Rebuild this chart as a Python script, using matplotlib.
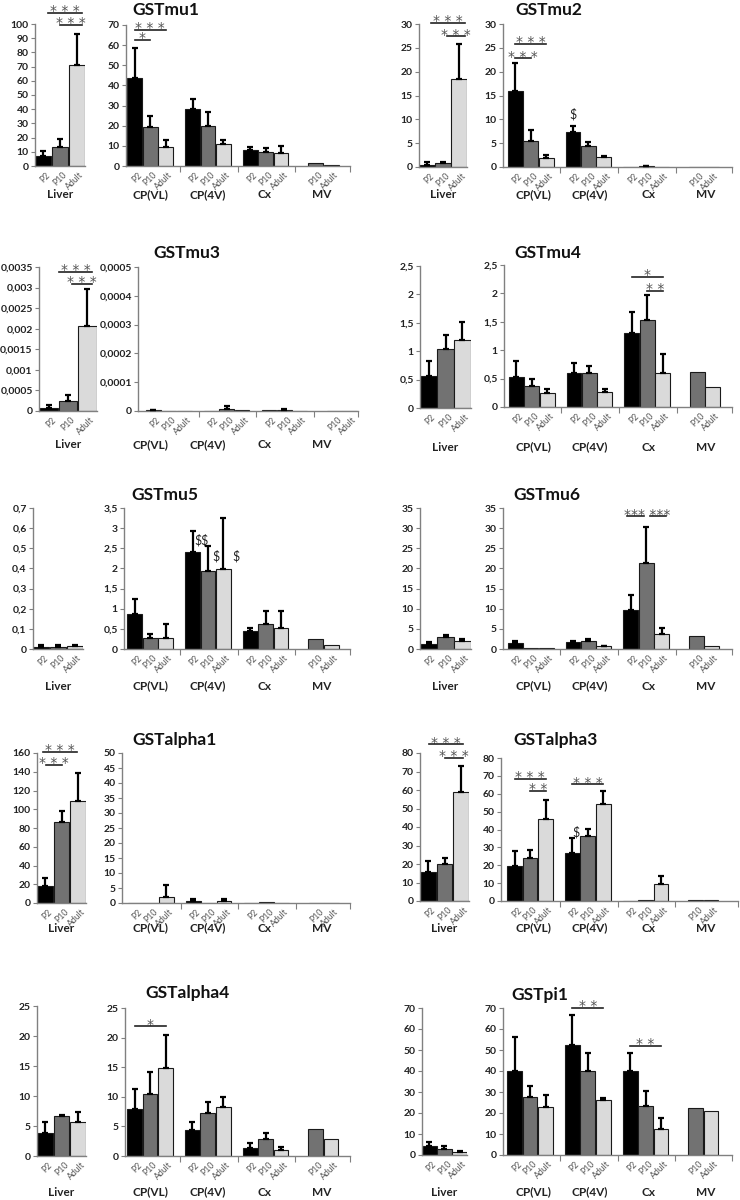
import numpy as np
import matplotlib
matplotlib.use("Agg")
import matplotlib.pyplot as plt

plt.rcParams['font.family'] = ['Lato', 'DejaVu Sans']

W, H = 740, 1200

ages = ["P2", "P10", "Adult"]
regions = ["CP(VL)", "CP(4V)", "Cx", "MV"]
mv_ages = ["P10", "Adult"]
bar_colors = ["#000000", "#727272", "#dadada"]

# values: liver (P2, P10, Adult); main = CP(VL) x3, CP(4V) x3, Cx x3, MV (P10, Adult)
mu1_liver = [6.8, 13.4, 71]
mu1_liver_err = [3.8, 5.7, 22.2]
mu1_main = [43.8, 19.2, 9.5, 28.5, 20.1, 11.1, 8.0, 7.1, 6.5, 1.5, 0.7]
mu1_main_err = [14.6, 5.5, 3.3, 4.7, 6.6, 1.7, 1.3, 1.9, 3.3, 0, 0]
mu1_sig = [("liver", 0.28, 2.31, 108, "* * *"), ("liver", 1.0, 2.31, 99.5, "* * *"),
           ("main", 0, 2, 67.5, "* * *"), ("main", 0, 1, 62.5, "*")]
mu1_marks = []

mu2_liver = [0.5, 0.77, 18.5]
mu2_liver_err = [0.55, 0.33, 7.4]
mu2_main = [16, 5.55, 1.9, 7.4, 4.36, 2.1, 0.08, 0.12, 0.05, 0.05, 0.05]
mu2_main_err = [5.8, 2.15, 0.56, 1.2, 0.94, 0.3, 0, 0.05, 0, 0, 0]
mu2_sig = [("liver", 0.25, 2.37, 30.2, "* * *"), ("liver", 1.25, 2.37, 27.4, "* * *"),
           ("main", 0, 2, 25.8, "* * *"), ("main", 0, 1, 22.8, "* * *")]
mu2_marks = [(3, 0.0, 11.1, "$")]

mu3_liver = [0.00007, 0.00024, 0.00206]
mu3_liver_err = [0.00007, 0.00016, 0.0009]
mu3_main = [3e-6, 1e-6, 1e-6, 0.5e-6, 8e-6, 2e-6, 2e-6, 5e-6, 0.5e-6, 0, 0]
mu3_main_err = [2e-6, 0, 0, 0, 9e-6, 0, 0, 3e-6, 0, 0, 0]
mu3_sig = [("liver", 0.54, 2.25, 0.00339, "* * *"), ("liver", 1.21, 2.25, 0.00309, "* * *")]
mu3_marks = []

mu4_liver = [0.57, 1.04, 1.19]
mu4_liver_err = [0.26, 0.25, 0.33]
mu4_main = [0.53, 0.37, 0.24, 0.6, 0.6, 0.26, 1.31, 1.54, 0.59, 0.62, 0.35]
mu4_main_err = [0.28, 0.12, 0.08, 0.18, 0.12, 0.05, 0.37, 0.43, 0.34, 0, 0]
mu4_sig = [("main", 6, 8, 2.29, "*"), ("main", 7, 8, 2.05, "* *")]
mu4_marks = []

mu5_liver = [0.012, 0.012, 0.013]
mu5_liver_err = [0.006, 0.009, 0.005]
mu5_main = [0.86, 0.27, 0.27, 2.42, 1.93, 1.99, 0.45, 0.61, 0.52, 0.25, 0.09]
mu5_main_err = [0.39, 0.09, 0.35, 0.52, 0.62, 1.26, 0.07, 0.33, 0.42, 0, 0]
mu5_sig = []
mu5_marks = [(3, 0.6, 2.7, "$$"), (4, 0.55, 2.29, "$"), (5, 0.8, 2.29, "$")]

mu6_liver = [1.16, 3.07, 2.07]
mu6_liver_err = [0.5, 0.43, 0.43]
mu6_main = [1.58, 0.25, 0.25, 1.74, 2.0, 0.66, 9.8, 21.4, 3.65, 3.2, 0.8]
mu6_main_err = [0.42, 0, 0, 0.26, 0.4, 0.14, 3.6, 8.9, 1.65, 0, 0]
mu6_sig = [("main", 5.76, 6.86, 32.9, ""), ("main", 7.25, 8.28, 32.9, ""),
           ("main_text", 7.08, 7.08, 32.9, "*** ***")]
mu6_marks = []

a1_liver = [18, 86, 109]
a1_liver_err = [9, 12.6, 30]
a1_main = [0, 0, 2.0, 0.56, 0, 0.56, 0, 0.2, 0, 0, 0]
a1_main_err = [0, 0, 3.9, 0.9, 0, 0.9, 0, 0, 0, 0, 0]
a1_sig = [("liver", -0.13, 1.95, 161, "* * *"), ("liver", 0.05, 1.03, 147, "* * *")]
a1_marks = []

a3_liver = [15.8, 20, 59]
a3_liver_err = [5.8, 3.4, 13.8]
a3_main = [19.5, 24, 45.8, 26.6, 36.1, 54, 0.2, 0.6, 9.3, 0.3, 0.3]
a3_main_err = [8.6, 4.5, 10.9, 8.7, 4.1, 7.4, 0, 0, 4.8, 0, 0]
a3_sig = [("liver", 0.05, 2.14, 84.7, "* * *"), ("liver", 1.03, 2.14, 77.5, "* * *"),
          ("main", 0, 2, 68.5, "* * *"), ("main", 1, 2, 61.6, "* *"), ("main", 3, 5, 65.3, "* * *")]
a3_marks = [(3, 0.2, 38.7, "$")]

a4_liver = [3.8, 6.6, 5.7]
a4_liver_err = [1.8, 0.3, 1.6]
a4_main = [7.9, 10.5, 14.8, 4.46, 7.28, 8.24, 1.3, 2.8, 1.0, 4.5, 2.9]
a4_main_err = [3.4, 3.7, 5.7, 1.3, 1.9, 1.8, 0.95, 1.15, 0.47, 0, 0]
a4_sig = [("main", 0, 2, 21.9, "*")]
a4_marks = []

pi1_liver = [4.45, 3.0, 1.4]
pi1_liver_err = [1.95, 1.3, 0.35]
pi1_main = [40, 27.7, 22.7, 52.3, 40.2, 26.2, 40, 23.2, 12.2, 22.3, 21]
pi1_main_err = [16.4, 5.3, 5.9, 14.5, 8.6, 0.8, 8.8, 7.3, 5.6, 0, 0]
pi1_sig = [("main", 3, 5, 70, "* *"), ("main", 6, 8, 52.1, "* *")]
pi1_marks = []

# layout in pixels: liver box, main box (x0, x1, ytop, ybot), title xy, group label row y
panels = [
    dict(name="GSTmu1", liver=mu1_liver, liver_err=mu1_liver_err, main=mu1_main, main_err=mu1_main_err,
         sig=mu1_sig, marks=mu1_marks, lbox=(35, 85, 24, 166), ltop=100, lstep=10,
         mbox=(126, 350, 25, 166), mtop=70, mstep=10, off=0.07, title=(166, 10), row=195, col=0),
    dict(name="GSTmu2", liver=mu2_liver, liver_err=mu2_liver_err, main=mu2_main, main_err=mu2_main_err,
         sig=mu2_sig, marks=mu2_marks, lbox=(419, 467, 24, 167), ltop=30, lstep=5,
         mbox=(503, 732, 24, 167), mtop=30, mstep=5, off=0.3, title=(549, 10), row=195, col=1),
    dict(name="GSTmu3", liver=mu3_liver, liver_err=mu3_liver_err, main=mu3_main, main_err=mu3_main_err,
         sig=mu3_sig, marks=mu3_marks, lbox=(39, 97, 267, 411), ltop=0.0035, lstep=0.0005,
         mbox=(138, 358, 267, 411), mtop=0.0005, mstep=0.0001, off=0.5, title=(187, 253), row=445, col=0),
    dict(name="GSTmu4", liver=mu4_liver, liver_err=mu4_liver_err, main=mu4_main, main_err=mu4_main_err,
         sig=mu4_sig, marks=mu4_marks, lbox=(420, 471, 266, 408), ltop=2.5, lstep=0.5,
         mbox=(504, 732, 265, 407), mtop=2.5, mstep=0.5, off=0.3, title=(548, 253), row=447, col=1),
    dict(name="GSTmu5", liver=mu5_liver, liver_err=mu5_liver_err, main=mu5_main, main_err=mu5_main_err,
         sig=mu5_sig, marks=mu5_marks, lbox=(33, 83, 508, 649), ltop=0.7, lstep=0.1,
         mbox=(124, 350, 508, 649), mtop=3.5, mstep=0.5, off=0.2, title=(165, 495), row=686, col=0),
    dict(name="GSTmu6", liver=mu6_liver, liver_err=mu6_liver_err, main=mu6_main, main_err=mu6_main_err,
         sig=mu6_sig, marks=mu6_marks, lbox=(420, 471, 508, 649), ltop=35, lstep=5,
         mbox=(503, 732, 508, 649), mtop=35, mstep=5, off=0.3, title=(547, 495), row=686, col=1),
    dict(name="GSTalpha1", liver=a1_liver, liver_err=a1_liver_err, main=a1_main, main_err=a1_main_err,
         sig=a1_sig, marks=a1_marks, lbox=(37, 86, 753, 903), ltop=160, lstep=20,
         mbox=(122, 350, 753, 903), mtop=50, mstep=5, off=0.37, title=(175, 740), row=928, col=0),
    dict(name="GSTalpha3", liver=a3_liver, liver_err=a3_liver_err, main=a3_main, main_err=a3_main_err,
         sig=a3_sig, marks=a3_marks, lbox=(420, 469, 753, 901), ltop=80, lstep=10,
         mbox=(501, 738, 758, 901), mtop=80, mstep=10, off=0.39, title=(556, 740), row=928, col=1),
    dict(name="GSTalpha4", liver=a4_liver, liver_err=a4_liver_err, main=a4_main, main_err=a4_main_err,
         sig=a4_sig, marks=a4_marks, lbox=(37, 86, 1006, 1156), ltop=25, lstep=5,
         mbox=(125, 350, 1008, 1156), mtop=25, mstep=5, off=0.13, title=(188, 993), row=1192, col=0),
    dict(name="GSTpi1", liver=pi1_liver, liver_err=pi1_liver_err, main=pi1_main, main_err=pi1_main_err,
         sig=pi1_sig, marks=pi1_marks, lbox=(422, 467, 1008, 1155), ltop=70, lstep=10,
         mbox=(503, 732, 1008, 1155), mtop=70, mstep=10, off=0.26, title=(540, 995), row=1192, col=1),
]

group_label_x = [[150, 208, 265, 322], [533, 590, 649, 706]]
AXIS_GRAY = "#808080"


def comma(v):
    s = ("%.6f" % v).rstrip("0").rstrip(".")
    return s.replace(".", ",")


def px_axes(fig, box):
    x0, x1, yt, yb = box
    return fig.add_axes([x0 / W, 1 - yb / H, (x1 - x0) / W, (yb - yt) / H])


def style_axis(ax, top, step):
    n = int(round(top / step))
    ticks = np.linspace(0, top, n + 1)
    ax.set_ylim(0, top)
    ax.set_yticks(ticks, [comma(t) for t in ticks], fontweight="bold", color="#222222")
    for s in ("top", "right"):
        ax.spines[s].set_visible(False)
    for s in ("left", "bottom"):
        ax.spines[s].set_color(AXIS_GRAY)
        ax.spines[s].set_linewidth(1.0)
    ax.tick_params(axis="y", direction="out", length=3, width=0.8, color=AXIS_GRAY,
                   labelsize=7.5, pad=1.5)
    ax.patch.set_alpha(0)


def main_centers(off):
    c = [off + 3.75 * g + i + 0.5 for g in range(3) for i in range(3)]
    c += [off + 11.75 + i + 0.5 for i in range(2)]
    return np.array(c)


def pos(centers, idx):
    k = int(np.clip(round(idx), 0, len(centers) - 1))
    return centers[k] + (idx - k)


def draw_bars(ax, x, vals, errs, colors, labels):
    ax.bar(x, vals, width=0.96, color=colors, edgecolor="#1a1a1a", linewidth=0.8, zorder=2)
    vals = np.array(vals, dtype=float)
    errs = np.array(errs, dtype=float)
    x = np.array(x, dtype=float)
    m = errs > 0
    if m.any():
        ax.errorbar(x[m], vals[m], yerr=[np.zeros(m.sum()), errs[m]], fmt="none",
                    ecolor="black", elinewidth=1.6, capsize=2, capthick=1.6, zorder=3)
    for xi, lbl in zip(x, labels):
        ax.annotate(lbl, xy=(xi, 0), xytext=(1.8, -3.2), textcoords="offset points",
                    rotation=45, rotation_mode="anchor", ha="right", va="top",
                    fontsize=6.3, color="#555555", annotation_clip=False)


def draw_stars(ax, x, y, text):
    ax.annotate(text, xy=(x, y), xytext=(0, -3.8), textcoords="offset points",
                ha="center", va="bottom", fontsize=10, color="#555555",
                family="DejaVu Sans", annotation_clip=False)


def draw_sig(ax, x1, x2, y, text):
    ax.plot([x1, x2], [y, y], color="#222222", lw=1.2, clip_on=False, zorder=4)
    if text:
        draw_stars(ax, (x1 + x2) / 2, y, text)


fig = plt.figure(figsize=(W / 100, H / 100), dpi=100)

for p in panels:
    # liver
    lax = px_axes(fig, p["lbox"])
    style_axis(lax, p["ltop"], p["lstep"])
    lx = np.arange(3)
    draw_bars(lax, lx, p["liver"], p["liver_err"], bar_colors, ages)
    lax.set_xlim(-0.5, 2.5)
    lax.set_xticks([])

    # brain regions
    mx0, mx1 = p["mbox"][0], p["mbox"][1]
    xmax = (mx1 - mx0) / 15.4
    max_ = px_axes(fig, p["mbox"])
    style_axis(max_, p["mtop"], p["mstep"])
    centers = main_centers(p["off"])
    mcolors = bar_colors * 3 + bar_colors[1:]
    mlabels = ages * 3 + mv_ages
    draw_bars(max_, centers, p["main"], p["main_err"], mcolors, mlabels)
    max_.set_xlim(0, xmax)
    seps = [p["off"] + 3.43 + 3.75 * k for k in range(3)] + [xmax]
    max_.set_xticks(seps, [""] * len(seps))
    max_.tick_params(axis="x", direction="out", length=4, width=0.8, color=AXIS_GRAY)

    for which, a, b, y, txt in p["sig"]:
        if which == "liver":
            draw_sig(lax, pos(lx, a), pos(lx, b), y, txt)
        elif which == "main":
            draw_sig(max_, pos(centers, a), pos(centers, b), y, txt)
        else:
            draw_stars(max_, pos(centers, a), y, txt)

    for idx, dx, y, txt in p["marks"]:
        max_.text(centers[idx] + dx, y, txt, ha="center", va="center", fontsize=9,
                  color="#222222", clip_on=False, parse_math=False)

    # titles and group labels
    tx, ty = p["title"]
    fig.text(tx / W, 1 - ty / H, p["name"], ha="center", va="center",
             fontsize=12.5, fontweight="bold", color="#111111")
    ry = 1 - p["row"] / H
    lcx = (p["lbox"][0] + p["lbox"][1]) / 2
    fig.text(lcx / W, ry, "Liver", ha="center", va="center", fontsize=8.5,
             fontweight="bold", color="#222222")
    for gx, reg in zip(group_label_x[p["col"]], regions):
        fig.text(gx / W, ry, reg, ha="center", va="center", fontsize=8.5,
                 fontweight="bold", color="#222222")

fig.savefig("out.png", dpi=100, facecolor="white")
